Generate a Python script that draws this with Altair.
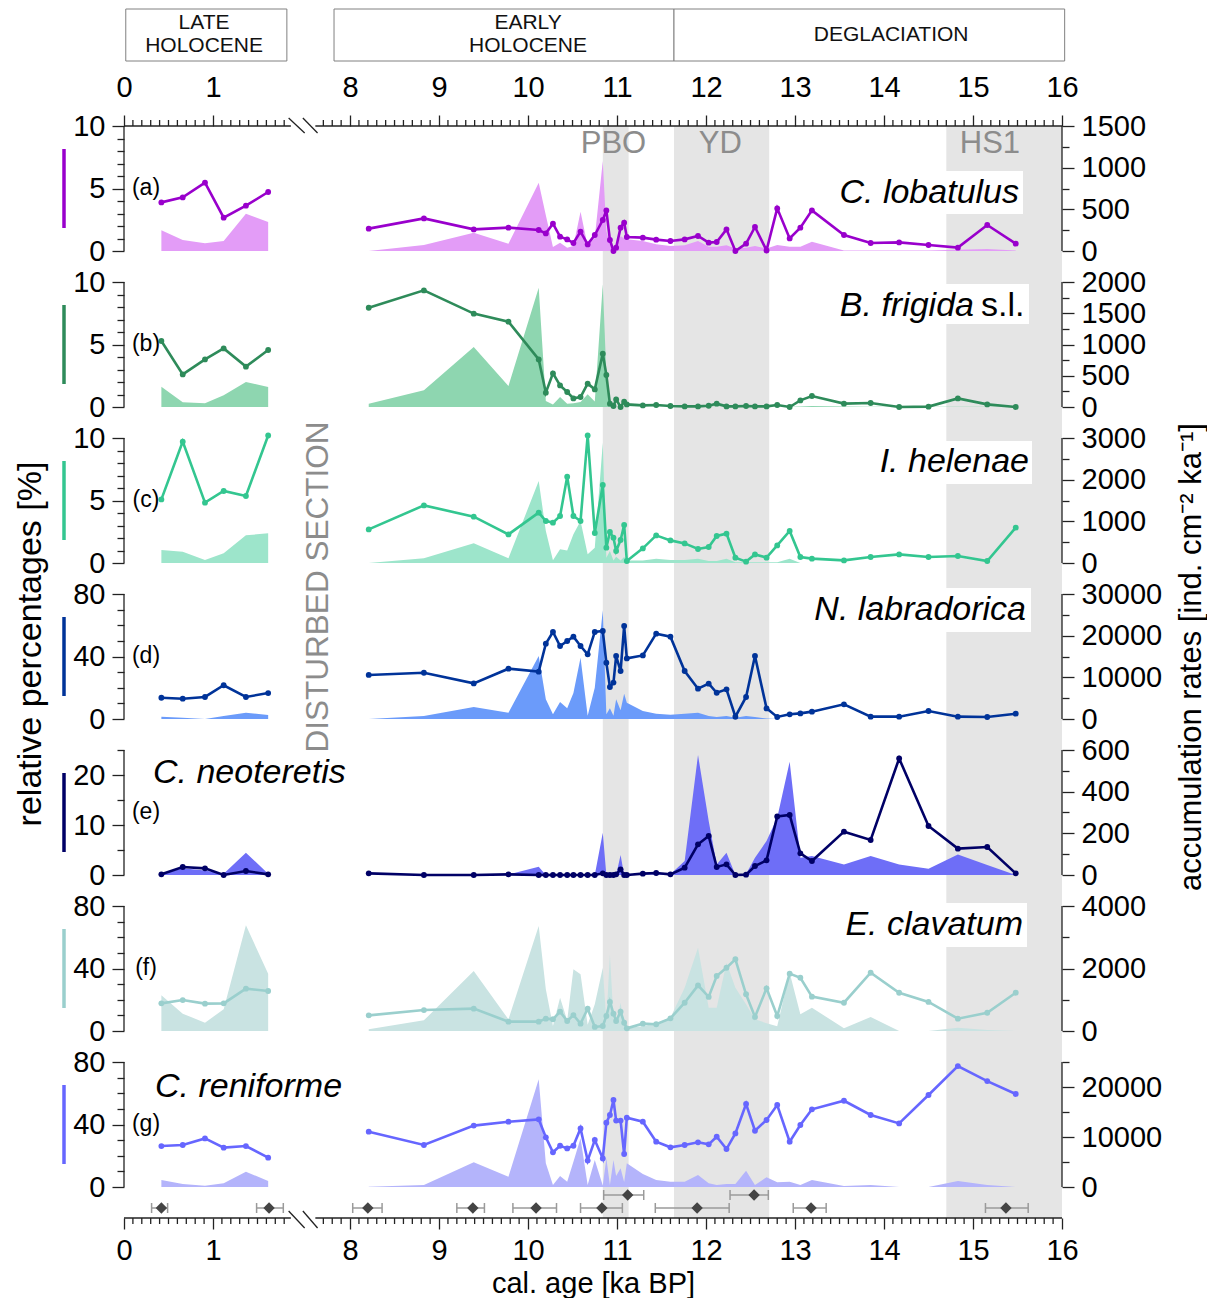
import altair as alt
import pandas as pd

# ---------------- layout constants ----------------
OFF = 5.46            # age gap removed by the axis break (ka)
XMAX = 16 - OFF
W, H, PH = 938, 156, 125
GAPF = (H - PH) / PH  # fraction of the value range used by the gap under each panel
FONT = "Liberation Sans"

# ---------------- sample ages ----------------
AGES_LATE = [0.42, 0.66, 0.91, 1.12, 1.37, 1.62]
AGES_EARLY = [8.21, 8.83, 9.39, 9.78, 10.12, 10.20, 10.28, 10.36, 10.44, 10.51,
              10.59, 10.67, 10.75, 10.84, 10.88, 10.92, 10.96, 10.99, 11.04, 11.08,
              11.11, 11.29, 11.44, 11.60, 11.76, 11.91, 12.03, 12.12, 12.23, 12.33,
              12.45, 12.55, 12.68, 12.80, 12.94, 13.06, 13.19, 13.55, 13.85, 14.17,
              14.50, 14.83, 15.16, 15.48]

# ---------------- (a) C. lobatulus ----------------
A_PCT_LATE = [3.89, 4.29, 5.47, 2.67, 3.63, 4.72]
A_ACC_LATE = [248, 132, 92, 120, 448, 348]
A_PCT_EARLY = [1.79, 2.61, 1.73, 1.87, 1.68, 1.41, 2.19, 1.15, 0.93, 0.64,
               1.55, 0.53, 1.28, 2.48, 3.25, 0.88, 0.0, 0.27, 1.87, 2.27,
               1.12, 1.07, 0.91, 0.80, 0.93, 1.20, 0.67, 0.72, 1.73, 0.0,
               0.59, 1.92, 0.05, 3.41, 1.01, 1.87, 3.25, 1.28, 0.64, 0.69,
               0.48, 0.27, 2.08, 0.59]
A_ACC_EARLY = [0, 72, 220, 88, 820, 430, 48, 100, 40, 60,
               472, 60, 160, 1080, 240, 100, 40, 40, 180, 150,
               140, 120, 80, 60, 70, 120, 50, 50, 70, 30,
               40, 60, 30, 72, 50, 50, 112, 5, 5, 5,
               5, 15, 25, 5]

# ---------------- (b) B. frigida s.l. ----------------
B_PCT_LATE = [5.28, 2.61, 3.81, 4.69, 3.23, 4.56]
B_ACC_LATE = [325, 75, 59, 187, 400, 320]
B_PCT_EARLY = [7.94, 9.33, 7.47, 6.83, 3.81, 1.15, 2.69, 1.73, 1.20, 0.69,
               0.80, 1.87, 1.41, 4.27, 2.56, 0.27, 0.08, 0.61, 0.0, 0.43,
               0.21, 0.13, 0.16, 0.08, 0.05, 0.05, 0.10, 0.27, 0.05, 0.05,
               0.08, 0.05, 0.05, 0.16, 0.0, 0.53, 0.88, 0.27, 0.32, 0.0,
               0.03, 0.69, 0.21, 0.0]
B_ACC_EARLY = [53, 267, 960, 336, 1909, 96, 40, 160, 53, 60,
               80, 203, 90, 1963, 523, 30, 10, 5, 5, 5,
               5, 5, 5, 5, 5, 5, 5, 5, 5, 5,
               5, 5, 5, 5, 5, 10, 15, 10, 3, 3,
               3, 3, 3, 3]

# ---------------- (c) I. helenae ----------------
C_PCT_LATE = [5.09, 9.71, 4.83, 5.76, 5.36, 10.2]
C_ACC_LATE = [312, 272, 72, 232, 664, 712]
C_PCT_EARLY = [2.69, 4.61, 3.71, 2.29, 4.03, 3.36, 3.23, 3.76, 6.91, 3.76,
               3.36, 10.2, 2.40, 6.24, 1.23, 2.48, 2.03, 0.96, 1.84, 3.04,
               0.16, 1.17, 2.21, 1.81, 1.57, 1.12, 1.28, 2.16, 2.35, 0.43,
               0.11, 0.69, 0.43, 1.41, 2.56, 0.48, 0.35, 0.21, 0.48, 0.69,
               0.48, 0.56, 0.16, 2.83]
C_ACC_EARLY = [0, 112, 472, 112, 1968, 768, 64, 328, 300, 688,
               1008, 208, 368, 2888, 128, 288, 60, 150, 60, 144,
               60, 60, 104, 70, 70, 104, 50, 50, 104, 20,
               20, 20, 20, 20, 104, 0, 0, 0, 0, 0,
               0, 0, 0, 0]

# ---------------- (d) N. labradorica ----------------
D_PCT_LATE = [13.6, 13.0, 14.1, 21.6, 14.1, 16.6]
D_ACC_LATE = [560, 320, 0, 720, 1520, 960]
D_PCT_EARLY = [28.2, 29.6, 22.8, 32.2, 30.3, 48.2, 55.7, 46.7, 49.9, 52.7,
               46.7, 41.4, 55.7, 56.3, 36.0, 20.5, 23.3, 40.3, 30.7, 59.5,
               38.8, 40.7, 54.6, 52.7, 30.7, 19.4, 22.6, 16.8, 19.0, 1.5,
               14.1, 40.3, 6.8, 1.3, 3.0, 3.6, 4.7, 9.4, 1.5, 1.5,
               5.1, 1.5, 1.3, 3.4]
D_ACC_EARLY = [0, 720, 2880, 1520, 15120, 4720, 1120, 4080, 2560, 6240,
               14720, 800, 7520, 26080, 1120, 2560, 800, 4720, 2080, 6080,
               3920, 1920, 1280, 1000, 1280, 1520, 720, 500, 720, 300,
               720, 500, 100, 0, 0, 0, 0, 0, 0, 0,
               0, 0, 0, 0]

# ---------------- (e) C. neoteretis ----------------
E_PCT_LATE = [0.13, 1.6, 1.33, 0.0, 0.8, 0.13]
E_ACC_LATE = [3, 32, 22, 6, 107, 6]
E_PCT_EARLY = [0.33, 0.0, 0.0, 0.13, 0.0, 0.0, 0.0, 0.0, 0.0, 0.0,
               0.0, 0.0, 0.0, 0.33, 0.0, 0.0, 0.0, 0.13, 1.13, 0.0,
               0.0, 0.27, 0.40, 0.13, 1.47, 6.13, 7.8, 1.6, 2.13, 0.0,
               0.07, 1.8, 2.93, 11.7, 12.0, 4.33, 2.8, 8.67, 7.0, 23.3,
               9.8, 5.27, 5.6, 0.33]
E_ACC_EARLY = [0, 0, 0, 3, 40, 0, 0, 0, 0, 0,
               0, 0, 0, 203, 0, 0, 0, 0, 96, 0,
               0, 2, 4, 4, 67, 576, 259, 51, 107, 0,
               5, 83, 163, 275, 544, 83, 91, 51, 91, 51,
               30, 99, 48, 0]

# ---------------- (f) E. clavatum ----------------
F_PCT_LATE = [17.7, 19.8, 17.5, 17.7, 27.1, 25.6]
F_ACC_LATE = [1141, 555, 267, 693, 3381, 1835]
F_PCT_EARLY = [10.0, 13.4, 14.3, 6.0, 6.0, 7.9, 7.5, 12.4, 6.4, 10.2,
               4.7, 14.3, 2.6, 3.2, 9.6, 18.6, 11.1, 6.4, 12.4, 5.3,
               1.7, 4.7, 4.3, 8.1, 18.1, 29.2, 21.8, 35.2, 40.5, 45.9,
               23.5, 9.0, 27.3, 9.6, 36.7, 34.1, 22.0, 18.1, 37.3, 24.5,
               18.6, 7.9, 11.7, 24.5]
F_ACC_EARLY = [53, 341, 1920, 373, 3360, 1333, 160, 1067, 341, 1973,
               1813, 200, 853, 2027, 300, 2453, 400, 200, 907, 200,
               100, 150, 250, 427, 1387, 2667, 747, 747, 2187, 1387,
               853, 373, 250, 150, 1867, 533, 747, 85, 448, 0,
               0, 107, 30, 0]

# ---------------- (g) C. reniforme ----------------
G_PCT_LATE = [26.2, 26.9, 31.1, 25.2, 26.2, 18.8]
G_ACC_LATE = [1400, 600, 267, 733, 3067, 1200]
G_PCT_EARLY = [35.4, 26.9, 39.3, 41.8, 43.3, 31.8, 22.2, 26.4, 24.7, 26.4,
               37.5, 16.9, 30.1, 18.3, 41.2, 46.1, 55.7, 42.5, 42.5, 21.1,
               44.4, 41.8, 29.0, 25.4, 26.9, 28.6, 27.3, 32.2, 24.3, 34.3,
               53.1, 36.0, 42.9, 52.5, 29.0, 39.7, 49.7, 55.2, 46.1, 40.7,
               58.9, 77.4, 67.8, 59.5]
G_ACC_EARLY = [60, 400, 4933, 2067, 21533, 4733, 400, 2200, 1067, 5067,
               9733, 400, 5400, 300, 5733, 400, 5400, 2200, 3733, 1000,
               4733, 2600, 1400, 1067, 1067, 2400, 733, 400, 600, 600,
               3267, 400, 1933, 933, 1067, 400, 1400, 200, 400, 0,
               0, 1200, 400, 0]

# ---------------- climate intervals ----------------
BAND_LABELS = ["PBO", "YD", "HS1"]
BAND_START = [10.84, 11.64, 14.70]
BAND_END = [11.13, 12.71, 16.0]
BAND_LABEL_AGE = [10.96, 12.16, 15.19]

# ---------------- header periods ----------------
PERIOD_LABELS = ["LATE\nHOLOCENE", "EARLY\nHOLOCENE", "DEGLACIATION"]
PERIOD_LINES = [2, 2, 1]
PERIOD_START = [0.02, 7.82, 11.64]
PERIOD_END = [1.83, 11.64, 16.03]
PERIOD_LABEL_AGE = [0.90, 10.0, 14.08]

# ---------------- age control points ----------------
AC_AGE = [0.42, 1.63, 8.20, 9.38, 10.09, 10.83, 11.12, 11.90, 12.54, 13.18, 15.37]
AC_LO = [0.31, 1.49, 8.03, 9.20, 9.83, 10.59, 10.85, 11.43, 12.27, 12.98, 15.14]
AC_HI = [0.49, 1.79, 8.36, 9.51, 10.32, 11.06, 11.30, 12.26, 12.70, 13.35, 15.62]
AC_ROW = [0, 0, 0, 0, 0, 0, 1, 0, 1, 0, 0]

# axis segments either side of the break
AXIS_SEG_START = [0.0, 7.61]
AXIS_SEG_END = [1.875, 16.0]


def to_xp(a):
    return a if a < 5 else a - OFF


XMAJOR = [0, 1] + [k - OFF for k in range(8, 17)]
XMINOR = [i / 10 for i in range(1, 19) if i % 10] + \
         [i / 10 - OFF for i in range(77, 160) if i % 10]
XLABEL_EXPR = f"datum.value < 2 ? format(datum.value, '.0f') : format(datum.value + {OFF}, '.0f')"

xscale = alt.Scale(domain=[0, XMAX], nice=False, zero=False)
one = pd.DataFrame({"k": [0]})

PANELS = [
    dict(tag="(a)", name="C. lobatulus", line="#9900cc", fill="#e39cf7",
         pl=A_PCT_LATE, pe=A_PCT_EARLY, al=A_ACC_LATE, ae=A_ACC_EARLY,
         pmax=10, pmaj=[0, 5, 10], pmin=[1, 2, 3, 4, 6, 7, 8, 9],
         amax=1500, amaj=[0, 500, 1000, 1500], amin=[250, 750, 1250],
         nx=895, ny=67, nalign="right", box=(707, 899, 45, 88)),
    dict(tag="(b)", name="B. frigida", line="#2e8b5a", fill="#8ed6b0",
         pl=B_PCT_LATE, pe=B_PCT_EARLY, al=B_ACC_LATE, ae=B_ACC_EARLY,
         pmax=10, pmaj=[0, 5, 10], pmin=[1, 2, 3, 4, 6, 7, 8, 9],
         amax=2000, amaj=[0, 500, 1000, 1500, 2000], amin=[250, 750, 1250, 1750],
         nx=850, ny=24, nalign="right", box=(707, 905, 2, 42), extra="s.l."),
    dict(tag="(c)", name="I. helenae", line="#33c690", fill="#9de5cb",
         pl=C_PCT_LATE, pe=C_PCT_EARLY, al=C_ACC_LATE, ae=C_ACC_EARLY,
         pmax=10, pmaj=[0, 5, 10], pmin=[1, 2, 3, 4, 6, 7, 8, 9],
         amax=3000, amaj=[0, 1000, 2000, 3000], amin=[500, 1500, 2500],
         nx=905, ny=24, nalign="right", box=(740, 908, 3, 46)),
    dict(tag="(d)", name="N. labradorica", line="#003399", fill="#6b9bfa",
         pl=D_PCT_LATE, pe=D_PCT_EARLY, al=D_ACC_LATE, ae=D_ACC_EARLY,
         pmax=80, pmaj=[0, 40, 80], pmin=[10, 20, 30, 50, 60, 70],
         amax=30000, amaj=[0, 10000, 20000, 30000], amin=[5000, 15000, 25000],
         nx=902, ny=16, nalign="right", box=(682, 907, -6, 38)),
    dict(tag="(e)", name="C. neoteretis", line="#000066", fill="#6e6ef7",
         pl=E_PCT_LATE, pe=E_PCT_EARLY, al=E_ACC_LATE, ae=E_ACC_EARLY,
         pmax=25, pmaj=[0, 10, 20], pmin=[5, 15, 25],
         amax=600, amaj=[0, 200, 400, 600], amin=[100, 300, 500],
         nx=29, ny=23, nalign="left", box=None),
    dict(tag="(f)", name="E. clavatum", line="#9acfcd", fill="#c9e3e2",
         pl=F_PCT_LATE, pe=F_PCT_EARLY, al=F_ACC_LATE, ae=F_ACC_EARLY,
         pmax=80, pmaj=[0, 40, 80], pmin=[10, 20, 30, 50, 60, 70],
         amax=4000, amaj=[0, 2000, 4000], amin=[1000, 3000],
         nx=899, ny=19, nalign="right", box=(712, 903, -3, 41)),
    dict(tag="(g)", name="C. reniforme", line="#6666ff", fill="#b4b4fb",
         pl=G_PCT_LATE, pe=G_PCT_EARLY, al=G_ACC_LATE, ae=G_ACC_EARLY,
         pmax=80, pmaj=[0, 40, 80], pmin=[10, 20, 30, 50, 60, 70],
         amax=25000, amaj=[0, 10000, 20000], amin=[5000, 15000, 25000],
         nx=31, ny=25, nalign="left", box=None),
]

NAME_SIZE = 34


def panel_df(p):
    rows = []
    for a, v, c in zip(AGES_LATE, p["pl"], p["al"]):
        rows.append(dict(seg="late", xp=to_xp(a), pct=v, acc=c))
    for a, v, c in zip(AGES_EARLY, p["pe"], p["ae"]):
        rows.append(dict(seg="early", xp=to_xp(a), pct=v, acc=c))
    return pd.DataFrame(rows)


def yaxis(orient, values, size, labels):
    kw = dict(orient=orient, values=values, tickSize=size, grid=False, title=None,
              tickColor="#222222", tickWidth=1.3, domain=False)
    if labels:
        kw.update(labelFontSize=29, labelColor="black", labelPadding=7, labelFont=FONT,
                  format="d")
    else:
        kw.update(labels=False)
    return alt.Axis(**kw)


def xaxis_major(orient, title=None):
    kw = dict(orient=orient, domain=False, grid=False, tickColor="#222222", tickWidth=1.3,
              values=XMAJOR, labelExpr=XLABEL_EXPR, tickSize=11, labelFontSize=29,
              labelFlush=False, labelColor="black", labelFont=FONT,
              labelPadding=13 if orient == "top" else 7)
    if title:
        kw.update(title=title, titleFontSize=29, titleFontWeight="normal",
                  titleFont=FONT, titleColor="black", titlePadding=4)
    else:
        kw.update(title=None)
    return alt.Axis(**kw)


bands_df = pd.DataFrame({"x1": [to_xp(s) for s in BAND_START],
                         "x2": [to_xp(e) for e in BAND_END]})
band_lab_df = pd.DataFrame({"xp": [to_xp(a) for a in BAND_LABEL_AGE], "label": BAND_LABELS})
period_df = pd.DataFrame({"x1": [to_xp(s) for s in PERIOD_START],
                          "x2": [to_xp(e) for e in PERIOD_END],
                          "cx": [to_xp(a) for a in PERIOD_LABEL_AGE],
                          "label": PERIOD_LABELS, "lines": PERIOD_LINES})
axseg_df = pd.DataFrame({"s": [to_xp(a) for a in AXIS_SEG_START],
                         "e": [to_xp(a) for a in AXIS_SEG_END]})
slash_df = pd.DataFrame({"s": [1.85, 2.01], "e": [2.03, 2.175]})
minor_df = pd.DataFrame({"v": XMINOR})
ac_df = pd.DataFrame({"xp": [to_xp(a) for a in AC_AGE], "lo": [to_xp(a) for a in AC_LO],
                      "hi": [to_xp(a) for a in AC_HI], "row": AC_ROW})


def axis_layers(orient):
    y0 = 0 if orient == "top" else H
    title = None if orient == "top" else "cal. age [ka BP]"
    line = alt.Chart(axseg_df).mark_rule(color="#222222", strokeWidth=1.3).encode(
        x=alt.X("s:Q", scale=xscale, axis=xaxis_major(orient, title)),
        x2="e:Q", y=alt.value(y0))
    minor = alt.Chart(minor_df).mark_rule(color="#222222", strokeWidth=1.3).encode(
        x=alt.X("v:Q", scale=xscale, axis=None),
        y=alt.value(y0), y2=alt.value(y0 - 6 if orient == "top" else y0 + 6))
    slashes = alt.Chart(slash_df).mark_rule(color="#222222", strokeWidth=1.3).encode(
        x=alt.X("s:Q", scale=xscale, axis=None),
        x2="e:Q", y=alt.value(y0 - 8 if orient == "top" else y0 - 7),
        y2=alt.value(y0 + 7 if orient == "top" else y0 + 10))
    return [line, minor, slashes]


def make_panel(i, p):
    df = panel_df(p)
    pscale = alt.Scale(domain=[-p["pmax"] * GAPF, p["pmax"]], nice=False, zero=False)
    ascale = alt.Scale(domain=[-p["amax"] * GAPF, p["amax"]], nice=False, zero=False)
    layers = []
    layers.append(alt.Chart(bands_df).mark_rect(color="#e5e5e5").encode(
        x=alt.X("x1:Q", scale=xscale, axis=None), x2="x2:Q",
        y=alt.value(0), y2=alt.value(H)))
    layers.append(alt.Chart(df).mark_area(color=p["fill"], opacity=1).encode(
        x=alt.X("xp:Q", scale=xscale, axis=None),
        y=alt.Y("acc:Q", stack=None, scale=ascale, axis=yaxis("right", p["amaj"], 12, True)),
        y2=alt.datum(0),
        detail="seg:N"))
    layers.append(alt.Chart(df).mark_point(opacity=0).encode(
        x=alt.X("xp:Q", scale=xscale, axis=None),
        y=alt.Y("acc:Q", scale=ascale, axis=yaxis("right", p["amin"], 7, False))))
    layers.append(alt.Chart(df).mark_line(color=p["line"], strokeWidth=2.6).encode(
        x=alt.X("xp:Q", scale=xscale, axis=None),
        y=alt.Y("pct:Q", scale=pscale, axis=yaxis("left", p["pmaj"], 12, True)),
        detail="seg:N"))
    layers.append(alt.Chart(df).mark_point(filled=True, size=34, opacity=1, color=p["line"]).encode(
        x=alt.X("xp:Q", scale=xscale, axis=None),
        y=alt.Y("pct:Q", scale=pscale, axis=yaxis("left", p["pmin"], 7, False))))
    # axis lines for both y axes (value range only, not the gap)
    layers.append(alt.Chart(one).mark_rule(color="#222222", strokeWidth=1.3).encode(
        x=alt.value(0), y=alt.value(0), y2=alt.value(PH)))
    layers.append(alt.Chart(one).mark_rule(color="#222222", strokeWidth=1.3).encode(
        x=alt.value(W), y=alt.value(0), y2=alt.value(PH)))
    # colour key bar and panel letter
    layers.append(alt.Chart(one).mark_rule(color=p["line"], strokeWidth=3.5).encode(
        x=alt.value(-60), y=alt.value(23), y2=alt.value(102)))
    layers.append(alt.Chart(one).mark_text(fontSize=23, font=FONT, color="black").encode(
        x=alt.value(22), y=alt.value(62), text=alt.value(p["tag"])))
    # species name
    if p["box"] is not None:
        x1, x2, y1, y2 = p["box"]
        layers.append(alt.Chart(one).mark_rect(color="white").encode(
            x=alt.value(x1), x2=alt.value(x2), y=alt.value(y1), y2=alt.value(y2)))
    layers.append(alt.Chart(one).mark_text(fontSize=NAME_SIZE, font=FONT, fontStyle="italic",
                                           align=p["nalign"], baseline="middle", color="black").encode(
        x=alt.value(p["nx"]), y=alt.value(p["ny"]), text=alt.value(p["name"])))
    if p.get("extra"):
        layers.append(alt.Chart(one).mark_text(fontSize=NAME_SIZE, font=FONT, align="left",
                                               baseline="middle", color="black").encode(
            x=alt.value(p["nx"] + 7), y=alt.value(p["ny"]), text=alt.value(p["extra"])))
    if i == 0:
        layers.append(alt.Chart(band_lab_df).mark_text(fontSize=31, font=FONT, color="#8c8c8c").encode(
            x=alt.X("xp:Q", scale=xscale, axis=None), y=alt.value(18), text="label:N"))
        layers.append(alt.Chart(period_df).mark_rect(fill="white", stroke="#808080", strokeWidth=1).encode(
            x=alt.X("x1:Q", scale=xscale, axis=None), x2="x2:Q",
            y=alt.value(-117), y2=alt.value(-65)))
        layers.append(alt.Chart(period_df).transform_filter("datum.lines == 2").mark_text(
            fontSize=21, font=FONT, color="#111111", lineBreak="\n", lineHeight=23).encode(
            x=alt.X("cx:Q", scale=xscale, axis=None), y=alt.value(-103), text="label:N"))
        layers.append(alt.Chart(period_df).transform_filter("datum.lines == 1").mark_text(
            fontSize=21, font=FONT, color="#111111").encode(
            x=alt.X("cx:Q", scale=xscale, axis=None), y=alt.value(-91), text="label:N"))
        layers += axis_layers("top")
    if i == 3:
        layers.append(alt.Chart(one).mark_text(fontSize=31.5, font=FONT, color="#8c8c8c", angle=270).encode(
            x=alt.value(195), y=alt.value(-7), text=alt.value("DISTURBED SECTION")))
        layers.append(alt.Chart(one).mark_text(fontSize=34, font=FONT, color="black", angle=270).encode(
            x=alt.value(-93), y=alt.value(50), text=alt.value("relative percentages [%]")))
        layers.append(alt.Chart(one).mark_text(fontSize=31, font=FONT, color="black", angle=270).encode(
            x=alt.value(1068), y=alt.value(63),
            text=alt.value("accumulation rates [ind. cm\u207b\u00b2 ka\u207b\u00b9]")))
    if i == 6:
        for row, yv in ((0, 146), (1, 133)):
            sub = alt.Chart(ac_df).transform_filter(f"datum.row == {row}")
            layers.append(sub.mark_rule(color="#9a9a9a", strokeWidth=1.5).encode(
                x=alt.X("lo:Q", scale=xscale, axis=None), x2="hi:Q", y=alt.value(yv)))
            layers.append(sub.mark_rule(color="#9a9a9a", strokeWidth=1.5).encode(
                x=alt.X("lo:Q", scale=xscale, axis=None), y=alt.value(yv - 5), y2=alt.value(yv + 5)))
            layers.append(sub.mark_rule(color="#9a9a9a", strokeWidth=1.5).encode(
                x=alt.X("hi:Q", scale=xscale, axis=None), y=alt.value(yv - 5), y2=alt.value(yv + 5)))
            layers.append(sub.mark_point(shape="diamond", filled=True, size=130, opacity=1,
                                         color="#444444").encode(
                x=alt.X("xp:Q", scale=xscale, axis=None), y=alt.value(yv)))
        layers += axis_layers("bottom")
    return alt.layer(*layers).resolve_scale(y="independent").resolve_axis(
        x="independent", y="independent").properties(width=W, height=H)


panels = [make_panel(i, p) for i, p in enumerate(PANELS)]

chart = alt.vconcat(*panels, spacing=0, bounds="flush").properties(
    padding={"left": 5, "top": 0, "right": 0, "bottom": 0}
).configure_view(stroke=None).configure_axis(labelFont=FONT, titleFont=FONT
).configure_text(font=FONT)

chart.save("out.html", embed_options={"renderer": "svg", "actions": False})
